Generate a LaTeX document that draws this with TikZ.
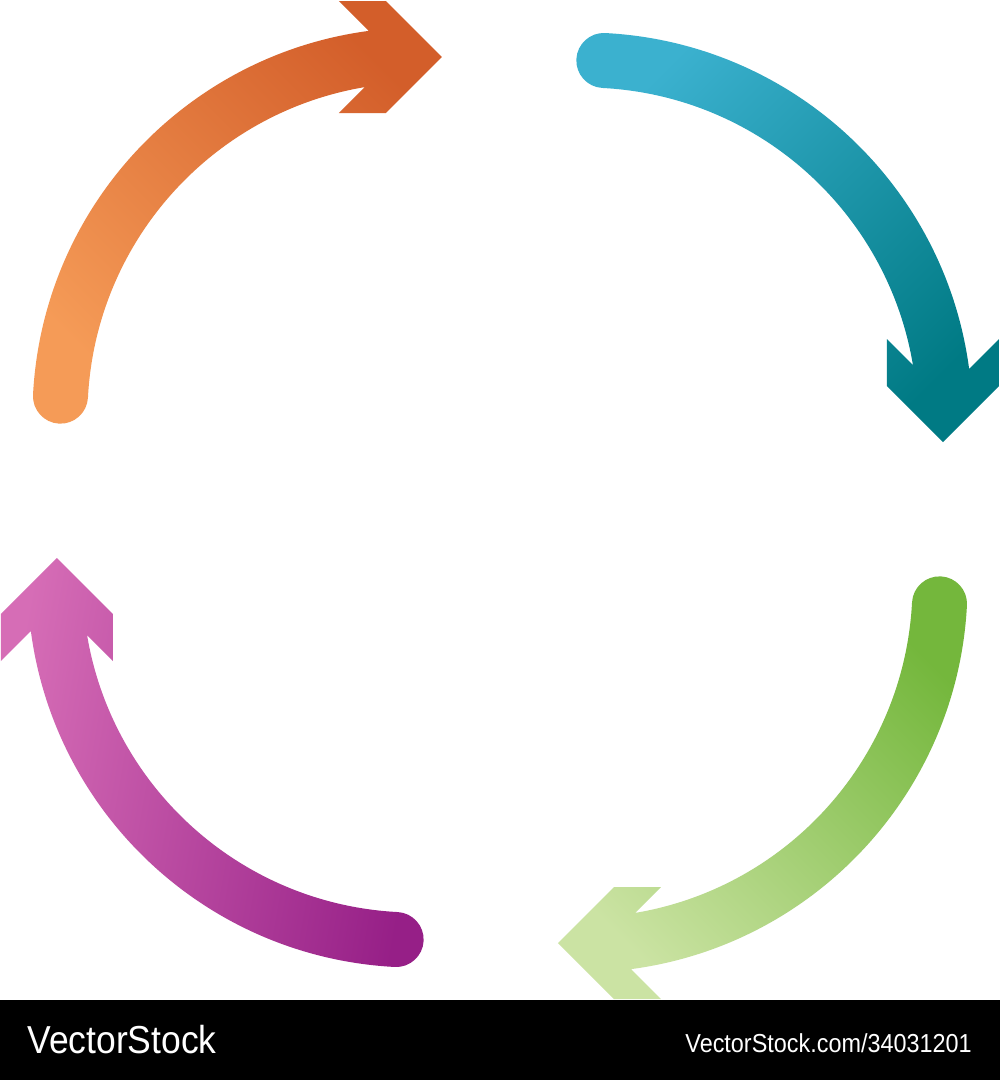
\documentclass[tikz,border=0pt]{standalone}
\usepackage{fontspec}
\setmainfont{Liberation Sans}
\usetikzlibrary{positioning}

\definecolor{orangeLight}{HTML}{F59B57}
\definecolor{orangeMid}{HTML}{EF7828}
\definecolor{orangeDark}{HTML}{D35E2A}
\definecolor{blueLight}{HTML}{3BB1CF}
\definecolor{blueMid}{HTML}{049ABC}
\definecolor{blueDark}{HTML}{007A84}
\definecolor{greenDark}{HTML}{74B73C}
\definecolor{greenMid}{HTML}{A3CF70}
\definecolor{greenLight}{HTML}{CBE3A3}
\definecolor{pinkLight}{HTML}{D66DB6}
\definecolor{pinkMid}{HTML}{C4168E}
\definecolor{pinkDark}{HTML}{961F87}

% one curved arrow, drawn as the top-left one; the others are turned about the centre
\newcommand{\cyclearrow}{%
  ([shift={(-80,85)}]93:387.5) arc[start angle=93, end angle=177, radius=387.5]
    arc[start angle=177, end angle=357, radius=27.5]
    arc[start angle=177, end angle=93, radius=332.5] -- cycle
  (-58,443) -- (-114,499) -- (-161,499) -- (-105,443) -- (-161,387) -- (-114,387) -- cycle}

\begin{document}
\begin{tikzpicture}[x=0.02cm, y=0.02cm,
    arrowshade/.style n args={3}{shading=axis, top color=#1, middle color=#2, bottom color=#3}]
        \useasboundingbox (-500,-580) rectangle (500,500);
        \fill[white] (-500,-500) rectangle (500,500);
        \shade[arrowshade={orangeDark}{orangeMid}{orangeLight}, shading angle=-45] \cyclearrow;
        \shade[rotate=-90, arrowshade={blueLight}{blueMid}{blueDark}, shading angle=45] \cyclearrow;
        \shade[rotate=-180, arrowshade={greenDark}{greenMid}{greenLight}, shading angle=-45] \cyclearrow;
        \shade[rotate=90, arrowshade={pinkLight}{pinkMid}{pinkDark}, shading angle=80] \cyclearrow;
        % footer
        \fill[black] (-500,-580) rectangle (500,-500);
        \node[anchor=base west, inner sep=0pt, text=white, font=\fontsize{22.2}{26}\selectfont] (brand) at (-473,-553) {\scalebox{0.91}[1]{VectorStock}};
        \node[anchor=base east, inner sep=0pt, text=white, font=\fontsize{14.8}{18}\selectfont] (link) at (472,-552) {\scalebox{0.9}[1]{VectorStock.com/34031201}};
    \end{tikzpicture}
\end{document}
